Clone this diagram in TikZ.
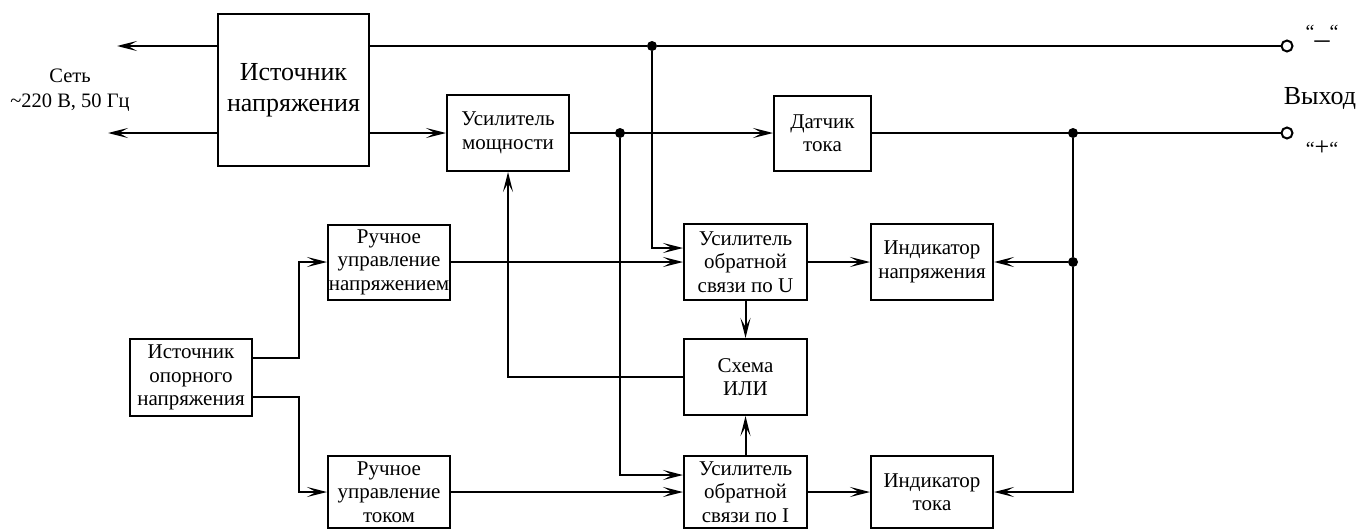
\documentclass[tikz,border=0pt]{standalone}
\usepackage{fontspec}
\setmainfont{Liberation Serif}
\usetikzlibrary{arrows.meta,calc}
\begin{document}
\begin{tikzpicture}[x=1pt,y=-1pt,
  blk/.style={draw, line width=2pt, inner sep=0pt, align=center, font=\fontsize{21}{23.5}\selectfont},
  wire/.style={line width=2pt},
  arr/.style={wire, -{Stealth[length=20pt,width=10pt,inset=9pt]}},
  jdot/.style={circle, fill, inner sep=0pt, minimum size=10pt},
  term/.style={circle, draw, line width=2pt, fill=white, inner sep=0pt, minimum size=11pt},
  lbl/.style={inner sep=0pt, align=center}]
\useasboundingbox (0,0) rectangle (1363,530);

% blocks
\node[blk, minimum width=151pt, minimum height=152pt, font=\fontsize{26}{31}\selectfont] (src) at (293.5,90) {Источник\\напряжения};
\node[blk, minimum width=122pt, minimum height=76pt] (pa) at (508,133) {Усилитель\\мощности};
\node[blk, minimum width=97pt, minimum height=75pt] (dt) at (822.5,133) {Датчик\\тока};
\node[blk, minimum width=122pt, minimum height=75pt] (rn) at (389,262) {Ручное\\управление\\напряжением};
\node[blk, minimum width=122pt, minimum height=72pt] (rt) at (389,492) {Ручное\\управление\\током};
\node[blk, minimum width=122pt, minimum height=77pt] (ion) at (191,377.5) {Источник\\опорного\\напряжения};
\node[blk, minimum width=123pt, minimum height=76pt] (ou) at (745.5,262) {Усилитель\\обратной\\связи по U};
\node[blk, minimum width=123pt, minimum height=76pt] (ili) at (745.5,377) {Схема\\ИЛИ};
\node[blk, minimum width=123pt, minimum height=72pt] (oi) at (745.5,492) {Усилитель\\обратной\\связи по I};
\node[blk, minimum width=122pt, minimum height=76pt] (in) at (932,262) {Индикатор\\напряжения};
\node[blk, minimum width=122pt, minimum height=72pt] (it) at (932,492) {Индикатор\\тока};

% junctions and terminals
\node[jdot] (j1) at (652,46) {};
\node[jdot] (j2) at (620,133) {};
\node[jdot] (j3) at (1073,133) {};
\node[jdot] (j4) at (1073,262) {};
\node[term] (o1) at (1287,46) {};
\node[term] (o2) at (1287,133) {};
\coordinate (l1) at (117,46);
\coordinate (l2) at (108,133);

% labels
\node[lbl, font=\fontsize{20.5}{25}\selectfont] (net) at (70,90) {Сеть\\\textasciitilde 220 В, 50 Гц};
\node[lbl, anchor=base, font=\fontsize{26}{30}\selectfont] (out) at (1320,104) {Выход};
\node[lbl, anchor=base, font=\fontsize{20}{24}\selectfont] (minus) at (1322,38) {“{\fontsize{30}{30}\selectfont\_}“};
\node[lbl, anchor=base, font=\fontsize{20}{24}\selectfont] (plus) at (1322,155) {“{\fontsize{26}{28}\selectfont +}“};

% connectors
\draw[arr] (src.west |- l1) -- (l1);
\draw[arr] (src.west |- l2) -- (l2);
\draw[wire] (src.east |- j1) -- (j1) -- (o1);
\draw[arr] (src.east |- pa) -- (pa.west);
\draw[arr] (pa.east) -- (dt.west);
\draw[wire] (dt.east) -- (o2);
\draw[arr] (j1) |- ([yshift=14pt]ou.west);
\draw[arr] (j2) |- ([yshift=17pt]oi.west);
\draw[arr] (rn.east) -- (ou.west);
\draw[arr] (rt.east) -- (oi.west);
\draw[arr] (ou.south) -- (ili.north);
\draw[arr] (oi.north) -- (ili.south);
\draw[arr] (ili.west) -| (pa.south);
\draw[arr] (ou.east) -- (in.west);
\draw[arr] (oi.east) -- (it.west);
\draw[wire] (j3) -- (j4);
\draw[arr] (j4) -- (in.east);
\draw[arr] (j4) |- (it.east);
\draw[arr] ([yshift=19.5pt]ion.east) -- ++(46,0) |- (rn.west);
\draw[arr] ([yshift=-19.5pt]ion.east) -- ++(46,0) |- (rt.west);
\end{tikzpicture}
\end{document}
